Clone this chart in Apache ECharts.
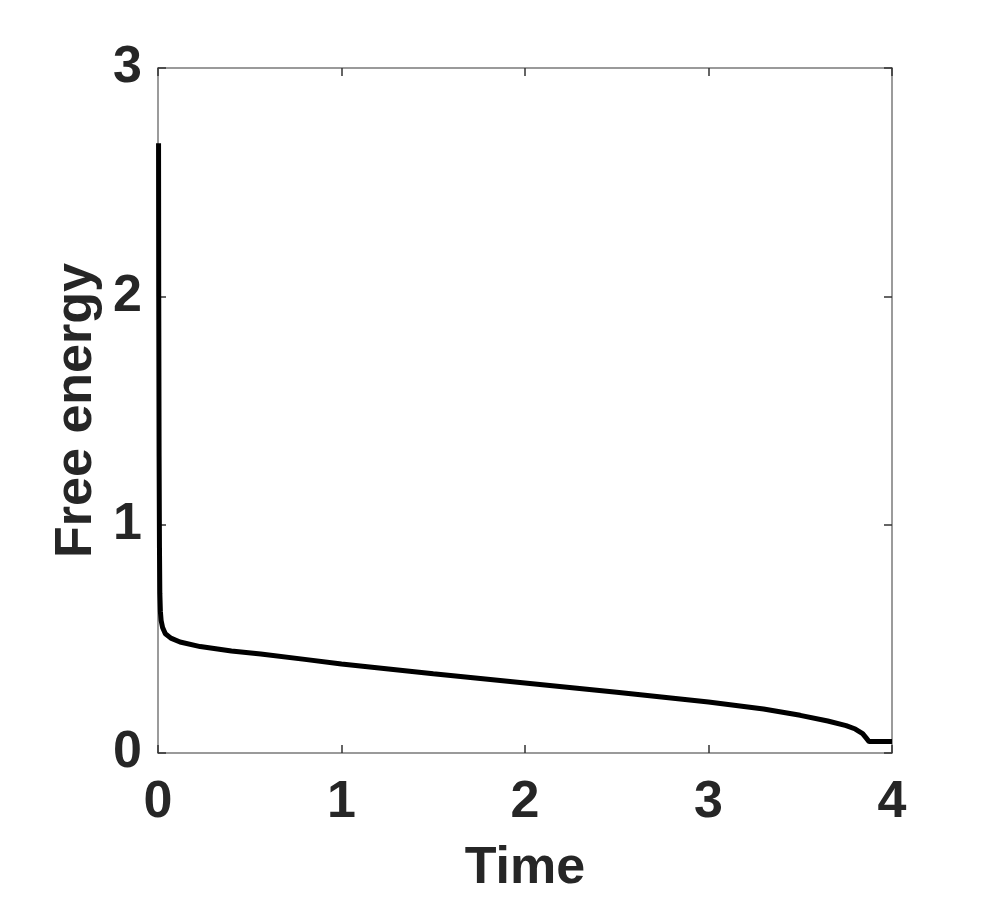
<!DOCTYPE html>
<html><head><meta charset="utf-8">
<script src="https://cdn.jsdelivr.net/npm/echarts@6/dist/echarts.min.js"></script>
<style>html,body{margin:0;padding:0;background:#fff}#c{width:986px;height:900px}</style>
</head><body><div id="c"></div>
<script>
const timeValues = [0.003, 0.004, 0.006, 0.008, 0.01, 0.013, 0.017, 0.025, 0.04, 0.07, 0.12, 0.23, 0.4, 0.56, 0.8, 1.0, 1.5, 2.0, 2.5, 3.0, 3.3, 3.5, 3.65, 3.75, 3.8, 3.84, 3.86, 3.875, 4.0];
const energyValues = [2.67, 2.0, 1.3, 0.9, 0.7, 0.62, 0.58, 0.55, 0.522, 0.503, 0.486, 0.466, 0.447, 0.434, 0.41, 0.39, 0.347, 0.307, 0.266, 0.223, 0.193, 0.165, 0.14, 0.12, 0.105, 0.085, 0.065, 0.05, 0.05];
const xTicks = [0, 1, 2, 3, 4];
const yTicks = [0, 1, 2, 3];

const data = timeValues.map((t, i) => [t, energyValues[i]]);
const font = '"Liberation Sans", Arial, sans-serif';
const axisColor = '#7a7a7a';
const textColor = '#262626';

const chart = echarts.init(document.getElementById('c'), null, {renderer: 'canvas'});
chart.setOption({
  backgroundColor: '#fff',
  animation: false,
  grid: {left: 158, right: 94, top: 68, bottom: 147, containLabel: false},
  xAxis: [{
    type: 'value', min: xTicks[0], max: xTicks[xTicks.length - 1], interval: 1,
    position: 'bottom',
    name: 'Time', nameLocation: 'middle', nameGap: 90,
    nameTextStyle: {fontSize: 52, fontWeight: 'bold', color: textColor, fontFamily: font},
    axisLine: {onZero: false, lineStyle: {color: axisColor, width: 1.5}},
    axisTick: {inside: true, length: 8, lineStyle: {color: '#333', width: 1.5}},
    axisLabel: {fontSize: 52, fontWeight: 'bold', color: textColor, fontFamily: font, margin: 24},
    splitLine: {show: false}
  }, {
    type: 'value', min: xTicks[0], max: xTicks[xTicks.length - 1], interval: 1,
    position: 'top',
    axisLine: {onZero: false, lineStyle: {color: axisColor, width: 1.5}},
    axisTick: {inside: true, length: 8, lineStyle: {color: '#333', width: 1.5}},
    axisLabel: {show: false}, splitLine: {show: false}
  }],
  yAxis: [{
    type: 'value', min: yTicks[0], max: yTicks[yTicks.length - 1], interval: 1,
    position: 'left',
    name: 'Free energy', nameLocation: 'middle', nameGap: 49,
    nameTextStyle: {fontSize: 52, fontWeight: 'bold', color: textColor, fontFamily: font},
    axisLine: {onZero: false, lineStyle: {color: axisColor, width: 1.5}},
    axisTick: {inside: true, length: 8, lineStyle: {color: '#333', width: 1.5}},
    axisLabel: {fontSize: 52, fontWeight: 'bold', color: textColor, fontFamily: font, margin: 16},
    splitLine: {show: false}
  }, {
    type: 'value', min: yTicks[0], max: yTicks[yTicks.length - 1], interval: 1,
    position: 'right',
    axisLine: {onZero: false, lineStyle: {color: axisColor, width: 1.5}},
    axisTick: {inside: true, length: 8, lineStyle: {color: '#333', width: 1.5}},
    axisLabel: {show: false}, splitLine: {show: false}
  }],
  series: [{
    type: 'line', xAxisIndex: 0, yAxisIndex: 0,
    data: data, showSymbol: false, smooth: false,
    lineStyle: {color: '#000', width: 5},
    clip: true
  }]
});
</script></body></html>
